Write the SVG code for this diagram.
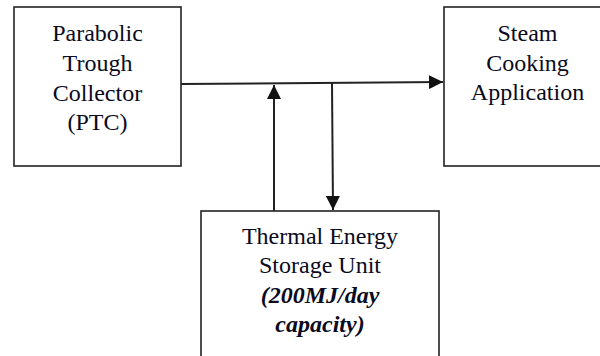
<svg xmlns="http://www.w3.org/2000/svg" width="600" height="356" viewBox="0 0 600 356">
<style>
.box{fill:#fff;stroke:#222;stroke-width:1.6}
.t{font-family:'Liberation Serif','Times New Roman',Times,'DejaVu Serif',serif;font-size:24px;fill:#0a0a20;text-anchor:middle}
.bi{font-weight:bold;font-style:italic}
.c{stroke:#222;stroke-width:2;fill:none}
</style>
<defs>
<marker id="ah" viewBox="0 0 10 10" refX="10" refY="5" markerWidth="14" markerHeight="14" markerUnits="userSpaceOnUse" orient="auto">
<path d="M0,0 L10,5 L0,10 Z" fill="#111"/>
</marker>
</defs>
<rect width="600" height="356" fill="#fff"/>
<g id="ptc">
<rect class="box" x="14" y="7" width="167" height="159"/>
<text class="t" x="97.5" y="41">Parabolic</text>
<text class="t" x="97.5" y="71">Trough</text>
<text class="t" x="97.5" y="101">Collector</text>
<text class="t" x="97.5" y="130">(PTC)</text>
</g>
<g id="steam">
<rect class="box" x="444" y="7" width="166" height="159"/>
<text class="t" x="527.5" y="41">Steam</text>
<text class="t" x="527.5" y="71">Cooking</text>
<text class="t" x="527.5" y="100">Application</text>
</g>
<g id="tes">
<rect class="box" x="201" y="211" width="238" height="160"/>
<text class="t" x="320" y="244">Thermal Energy</text>
<text class="t" x="320" y="273">Storage Unit</text>
<text class="t bi" x="320" y="303">(200MJ/day</text>
<text class="t bi" x="320" y="332">capacity)</text>
</g>
<g id="connectors">
<line class="c" x1="181" y1="84" x2="443" y2="82" marker-end="url(#ah)"/>
<line class="c" x1="274" y1="211" x2="274" y2="85" marker-end="url(#ah)"/>
<line class="c" x1="332" y1="83" x2="333" y2="210" marker-end="url(#ah)"/>
</g>
</svg>
